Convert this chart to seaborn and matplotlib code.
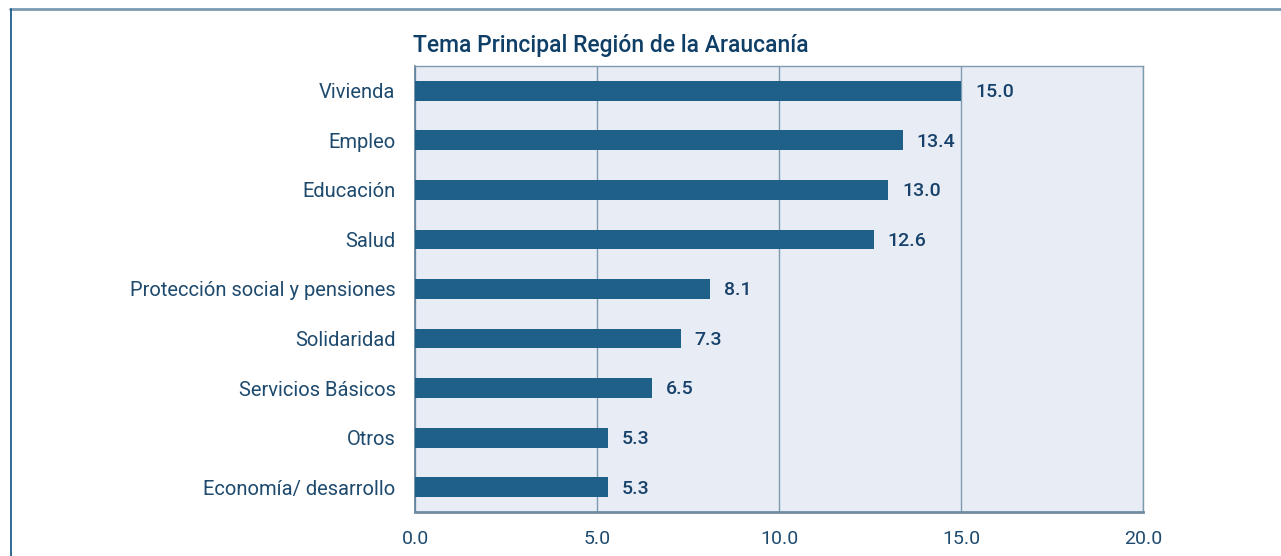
import matplotlib
matplotlib.use("Agg")
import matplotlib.pyplot as plt
import seaborn as sns
import pandas as pd
import numpy as np
from matplotlib.lines import Line2D
from matplotlib.ticker import FixedLocator

categories = ["Vivienda", "Empleo", "Educación", "Salud",
              "Protección social y pensiones", "Solidaridad",
              "Servicios Básicos", "Otros", "Economía/ desarrollo"]
values = [15.0, 13.4, 13.0, 12.6, 8.1, 7.3, 6.5, 5.3, 5.3]
value_labels = ["15.0", "13.4", "13.0", "12.6", "8.1", "7.3", "6.5", "5.3", "5.3"]
x_ticks = [0, 5, 10, 15, 20]
x_tick_labels = ["0.0", "5.0", "10.0", "15.0", "20.0"]
title = "Tema Principal Región de la Araucanía"

sns.set_theme(style="white")
plt.rcParams["font.family"] = ["Roboto", "DejaVu Sans"]

BAR = "#1F6089"
BG = "#E8EDF5"
GRID = "#7E9AB1"
TXT = "#1E4A6E"
LBL = "#17416A"

df = pd.DataFrame({"tema": categories, "valor": values})

fig = plt.figure(figsize=(12.81, 5.56), dpi=100)
ax = fig.add_axes([415/1281, 1-512/556, (1143-415)/1281, (512-66)/556])
ax.set_facecolor(BG)

sns.barplot(data=df, y="tema", x="valor", orient="h", color=BAR,
            width=0.4, saturation=1, ax=ax, zorder=3)
for p in ax.patches:
    p.set_edgecolor("none")

ax.set_xlim(0, 20)
ax.set_ylim(len(categories)-0.5, -0.5)
ax.set_xlabel("")
ax.set_ylabel("")

ax.set_xticks(x_ticks)
ax.set_xticklabels(x_tick_labels)
ax.xaxis.grid(True, color=GRID, linewidth=1.0, zorder=1)
ax.set_axisbelow(True)

ax.tick_params(axis="x", direction="out", length=8, width=1.0, color=GRID,
               labelsize=14, labelcolor=TXT, pad=5)
ax.tick_params(axis="y", which="major", length=0, labelsize=14.5,
               labelcolor=TXT, pad=14)
ax.yaxis.set_minor_locator(FixedLocator(np.arange(-0.5, len(categories), 1.0)))
ax.tick_params(axis="y", which="minor", direction="out", length=7, width=1.0,
               color=GRID)
for t in ax.get_yticklabels():
    t.set_verticalalignment("center_baseline")

for s in ["top", "right"]:
    ax.spines[s].set_color(GRID)
    ax.spines[s].set_linewidth(1.0)
ax.spines["left"].set_color("#5F7F99")
ax.spines["left"].set_linewidth(1.2)
ax.spines["bottom"].set_color("#6F8CA3")
ax.spines["bottom"].set_linewidth(2.0)

for i, (v, lab) in enumerate(zip(values, value_labels)):
    ax.annotate(lab, xy=(v, i), xytext=(10, -1), textcoords="offset points",
                va="center", ha="left", fontsize=14, fontweight="medium",
                color=LBL)

fig.text(413/1281, 1-52/556, title, fontsize=16.5, fontweight="medium",
         color="#0F3F66", ha="left", va="baseline")

# outer frame lines
fig.add_artist(Line2D([10/1281, 1.0], [1-8.5/556, 1-8.5/556],
                      transform=fig.transFigure, color="#7A9AB2", linewidth=2))
fig.add_artist(Line2D([10.5/1281, 10.5/1281], [1-8.5/556, 0.0],
                      transform=fig.transFigure, color="#1F5F8B", linewidth=1.3))

fig.savefig("out.png", dpi=100)
